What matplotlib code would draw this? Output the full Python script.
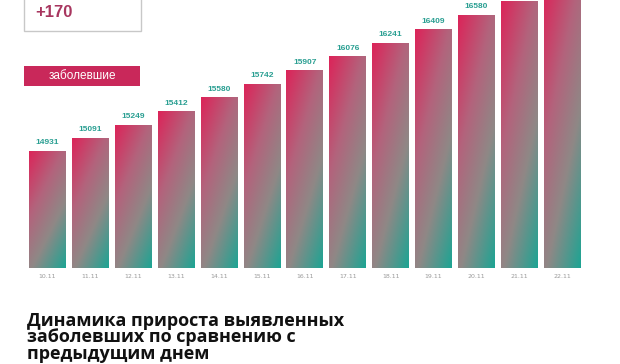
import numpy as np
import matplotlib.pyplot as plt
from matplotlib.colors import LinearSegmentedColormap
from matplotlib.patches import Rectangle

dates = ['10.11', '11.11', '12.11', '13.11', '14.11', '15.11', '16.11',
         '17.11', '18.11', '19.11', '20.11', '21.11', '22.11']
cases = [14931, 15091, 15249, 15412, 15580, 15742, 15907,
         16076, 16241, 16409, 16580, 16750, 16920]
shown_labels = 11   # last two labels are cut off by the top edge
increase = '+170'
title = 'Динамика прироста выявленных\nзаболевших по сравнению с\nпредыдущим днем'

W, H = 620, 364
fig = plt.figure(figsize=(W / 100, H / 100), dpi=100)
fig.patch.set_facecolor('white')

# axes: bars bottom at y=268px, axes spans whole width
ax = fig.add_axes([0, (H - 268) / H, 1, 268 / H])
step = 42.9
x0 = 47.5
for s in ax.spines.values():
    s.set_visible(False)
ax.set_yticks([])

cmap = LinearSegmentedColormap.from_list(
    'rg', [(0, '#dc2459'), (0.35, '#b3637c'), (0.65, '#8f8886'), (1, '#1ea493')])

x = np.arange(len(dates))
bars = ax.bar(x, cases, width=0.86, color='none', edgecolor='none')
ylo = 13506
gy, gx = np.mgrid[0:1:100j, 0:1:40j]
grad = 0.62 * gy + 0.38 * gx
for b in bars:
    bx = b.get_x()
    im = ax.imshow(grad, cmap=cmap, aspect='auto', interpolation='bilinear',
                   extent=[bx, bx + b.get_width(), ylo, b.get_height()],
                   origin='upper', zorder=2)
    im.set_clip_path(b)
ax.set_xlim(-x0 / step, (W - x0) / step)
ax.set_ylim(ylo, 16762)

for i in range(shown_labels):
    ax.text(x[i], cases[i] + 55, str(cases[i]), ha='center', va='bottom',
            fontsize=6, fontweight='bold', color='#2a9f92',
            family='Liberation Sans', zorder=3)

ax.set_xticks(x, dates)
ax.tick_params(axis='x', length=0, pad=4, labelsize=4.5, labelcolor='#9a9a9a')

# top box with increase
fig.patches.append(Rectangle((24 / W, 1 - 31 / H), 117 / W, 40 / H,
                             transform=fig.transFigure, facecolor='white',
                             edgecolor='#c8c8c8', lw=1))
fig.text(35 / W, 1 - 17 / H, increase, fontsize=12, fontweight='bold',
         color='#a8365f', family='Liberation Sans', va='baseline')

# label tag
fig.patches.append(Rectangle((24 / W, 1 - 86 / H), 116 / W, 20 / H,
                             transform=fig.transFigure, facecolor='#c9285a',
                             edgecolor='none'))
fig.text(82 / W, 1 - 76 / H, 'заболевшие', fontsize=8.5, color='white',
         family='Liberation Sans', ha='center', va='center')

# bottom title
fig.text(27 / W, 1 - 312 / H, title, fontsize=13, fontweight='bold',
         color='#111111', family='Open Sans', va='top', linespacing=0.88)

fig.savefig('out.png', dpi=100)
